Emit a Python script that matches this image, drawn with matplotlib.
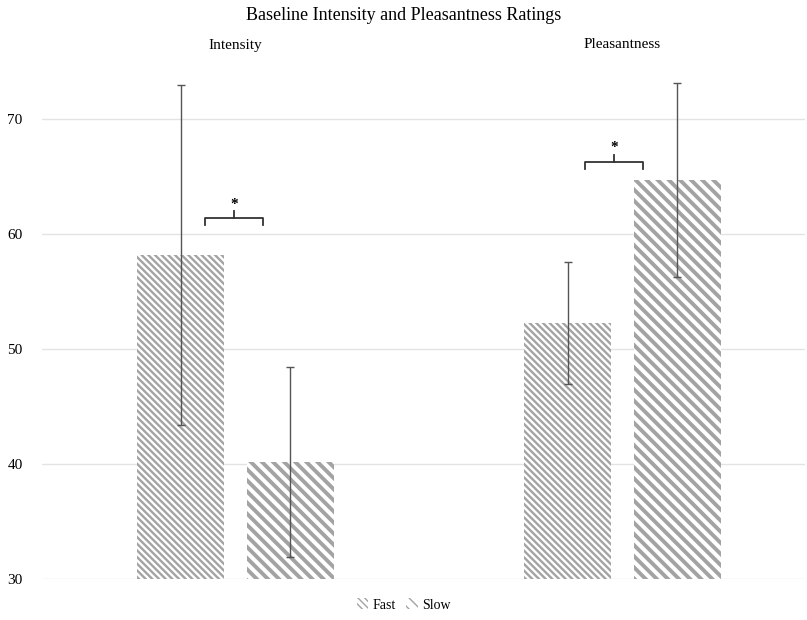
import matplotlib
matplotlib.use("Agg")
import matplotlib.pyplot as plt
import numpy as np

plt.rcParams['font.family'] = ['Liberation Serif', 'DejaVu Serif']
plt.rcParams['hatch.color'] = '#a3a3a3'

groups = ["Intensity", "Pleasantness"]
series = ["Fast", "Slow"]
fast_vals = [58.2, 52.3]
slow_vals = [40.2, 64.7]
fast_err = [14.8, 5.3]
slow_err = [8.25, 8.4]
title = "Baseline Intensity and Pleasantness Ratings"
yticks = [30, 40, 50, 60, 70]

fig = plt.figure(figsize=(8.07, 6.2), dpi=100)
ax = fig.add_axes([42/807, 41/620, 763/807, (579-61.5)/620])

x = np.arange(len(groups))
w = 0.225
off = 0.142
with plt.rc_context({'hatch.linewidth': 1.7}):
    ax.bar(x - off, fast_vals, w, color='white', edgecolor='#a3a3a3',
           hatch='\\' * 5, linewidth=0, label=series[0], zorder=2)
with plt.rc_context({'hatch.linewidth': 2.8}):
    ax.bar(x + off, slow_vals, w, color='white', edgecolor='#a3a3a3',
           hatch='\\' * 3, linewidth=0, label=series[1], zorder=2)
ax.errorbar(x - off, fast_vals, yerr=fast_err, fmt='none', ecolor='#555555',
            elinewidth=1, capsize=3, capthick=1, zorder=3)
ax.errorbar(x + off, slow_vals, yerr=slow_err, fmt='none', ecolor='#555555',
            elinewidth=1, capsize=3, capthick=1, zorder=3)

ax.set_ylim(30, 75)
ax.set_xlim(-0.5, 1.4716)
ax.set_yticks(yticks)
ax.set_xticks([])
ax.grid(axis='y', color='#e3e3e3', linewidth=1, zorder=0)
ax.set_axisbelow(True)
for s in ax.spines.values():
    s.set_visible(False)
ax.tick_params(axis='y', length=0, labelsize=11, pad=14)

# significance brackets
def bracket(cx, ytop, hw=0.075):
    ax.plot([cx - hw, cx - hw, cx + hw, cx + hw],
            [ytop - 0.65, ytop, ytop, ytop - 0.65], color='#333333', lw=1.3,
            solid_joinstyle='round', zorder=4)
    ax.plot([cx, cx], [ytop, ytop + 0.6], color='#333333', lw=1.3, zorder=4)
    ax.text(cx, ytop + 1.2, '*', ha='center', va='center', fontsize=11,
            fontweight='bold')

bracket(-0.003, 61.4)
bracket(0.978, 66.3)

for xi, g in zip(x, groups):
    fig.text((235.5 + xi * 387) / 807, 1 - 45/620, g, ha='center',
             va='center', fontsize=11)
fig.text(0.5, 1 - 15/620, title, ha='center', va='center', fontsize=13)

fig.legend(loc='center', bbox_to_anchor=(0.5, 1 - 605/620), ncol=2,
           frameon=False, fontsize=10, handlelength=0.8, handleheight=0.8,
           handletextpad=0.3, columnspacing=0.8)

fig.savefig("out.png", dpi=100)
